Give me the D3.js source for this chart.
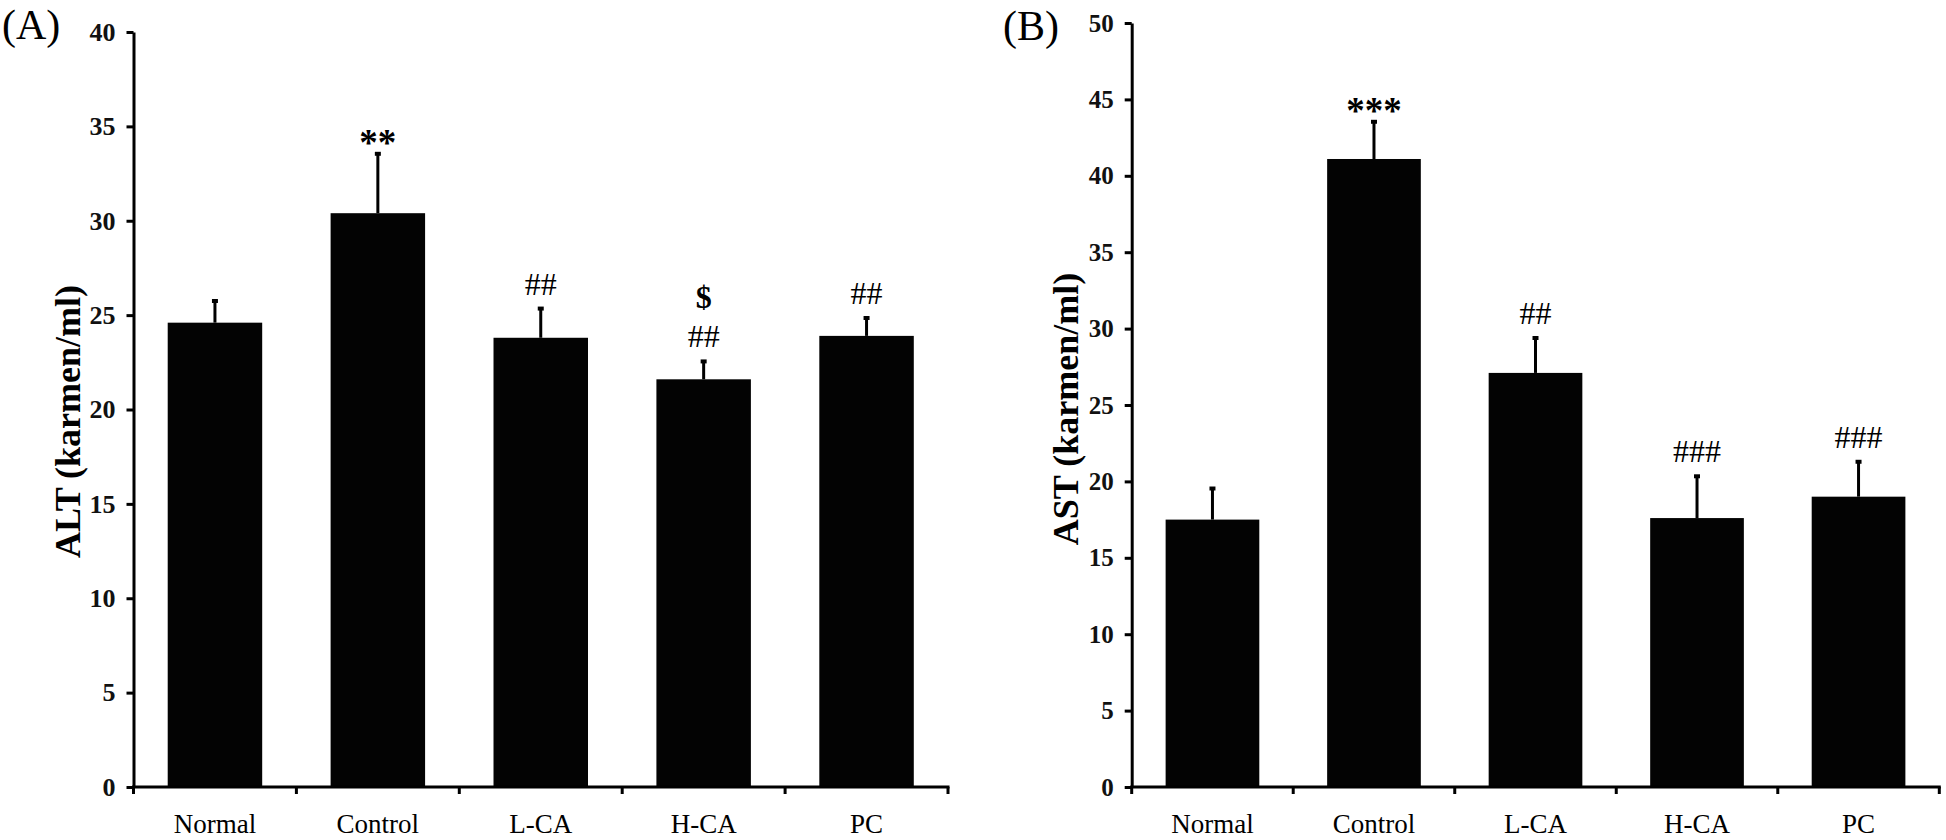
<!DOCTYPE html>
<html><head><meta charset="utf-8">
<script src="https://cdn.jsdelivr.net/npm/d3@7"></script>
<style>body{margin:0;background:#fff} svg{display:block}</style>
</head><body>
<svg id="c" width="1946" height="840"></svg>
<script>
// ---- data ----
const categories = ["Normal", "Control", "L-CA", "H-CA", "PC"];
const altMean = [24.6, 30.4, 23.8, 21.6, 23.9];
const altErr  = [1.2, 3.2, 1.6, 1.0, 1.0];
const altMarks = [[], ["**"], ["##"], ["$", "##"], ["##"]];
const altTicks = [0, 5, 10, 15, 20, 25, 30, 35, 40];

const astMean = [17.5, 41.1, 27.1, 17.6, 19.0];
const astErr  = [2.1, 2.5, 2.35, 2.8, 2.35];
const astMarks = [[], ["***"], ["##"], ["###"], ["###"]];
const astTicks = [0, 5, 10, 15, 20, 25, 30, 35, 40, 45, 50];

const FONT = "'Liberation Serif','Times New Roman',Times,serif";
const svg = d3.select("#c");

function panel(o) {
  const g = svg.append("g");
  const x = d3.scaleBand().domain(categories).range([o.x0, o.x1]).padding(0);
  const y = d3.scaleLinear().domain([0, o.ticks[o.ticks.length - 1]]).range([o.y0, o.y1]);
  const bw = x.bandwidth() * 0.58;

  // bars
  g.selectAll("rect.bar").data(categories).enter().append("rect")
    .attr("x", d => x(d) + (x.bandwidth() - bw) / 2)
    .attr("y", (d, i) => y(o.mean[i]))
    .attr("width", bw)
    .attr("height", (d, i) => y(0) - y(o.mean[i]))
    .attr("fill", "#030303");

  // error bars (upper only)
  const cx = d => x(d) + x.bandwidth() / 2;
  g.selectAll("line.err").data(categories).enter().append("line")
    .attr("x1", cx).attr("x2", cx)
    .attr("y1", (d, i) => y(o.mean[i]))
    .attr("y2", (d, i) => y(o.mean[i] + o.err[i]))
    .attr("stroke", "#000").attr("stroke-width", 3);
  g.selectAll("line.cap").data(categories).enter().append("line")
    .attr("x1", d => cx(d) - 3).attr("x2", d => cx(d) + 3)
    .attr("y1", (d, i) => y(o.mean[i] + o.err[i]) + 1)
    .attr("y2", (d, i) => y(o.mean[i] + o.err[i]) + 1)
    .attr("stroke", "#000").attr("stroke-width", 4);

  // significance marks
  categories.forEach((c, i) => {
    const lines = o.marks[i];
    if (!lines.length) return;
    const top = y(o.mean[i] + o.err[i]);
    const last = lines[lines.length - 1];
    const star = last.indexOf("*") >= 0;
    const base = top - (star ? -2 : 13);
    lines.forEach((t, k) => {
      const isStar = t.indexOf("*") >= 0;
      g.append("text")
        .attr("x", cx(c))
        .attr("y", base - (lines.length - 1 - k) * 39)
        .attr("text-anchor", "middle")
        .attr("font-family", FONT)
        .attr("font-size", isStar ? 37 : 32)
        .attr("font-weight", isStar || t === "$" ? "bold" : "normal")
        .attr("fill", "#000")
        .text(t);
    });
  });

  // y axis
  const ya = g.append("g").attr("transform", `translate(${o.x0},0)`)
    .call(d3.axisLeft(y).tickValues(o.ticks).tickSize(7).tickSizeOuter(0).tickPadding(11).tickFormat(d3.format("d")));
  ya.select(".domain").attr("stroke", "#000").attr("stroke-width", 3);
  ya.selectAll(".tick line").attr("stroke", "#000").attr("stroke-width", 3);
  ya.selectAll(".tick text").attr("font-family", FONT).attr("font-size", o.tickFont)
    .attr("font-weight", "bold").attr("fill", "#111");

  // x axis line and boundary ticks
  g.append("line").attr("x1", o.x0 - 1.5).attr("x2", o.x1 + 1.5)
    .attr("y1", y(0)).attr("y2", y(0)).attr("stroke", "#000").attr("stroke-width", 3);
  const bounds = categories.map(c => x(c)).concat([o.x1]);
  g.selectAll("line.xt").data(bounds).enter().append("line")
    .attr("x1", d => d).attr("x2", d => d)
    .attr("y1", y(0)).attr("y2", y(0) + 7)
    .attr("stroke", "#000").attr("stroke-width", 3);

  const xa = g.append("g").attr("transform", `translate(0,${y(0)})`)
    .call(d3.axisBottom(x).tickSize(0).tickPadding(27));
  xa.select(".domain").remove();
  xa.selectAll(".tick text").attr("font-family", FONT).attr("font-size", 27).attr("fill", "#000");

  // y title
  g.append("text")
    .attr("transform", `translate(${o.x0 - 54},${(o.y0 + o.y1) / 2 + o.titleShift}) rotate(-90)`)
    .attr("text-anchor", "middle")
    .attr("font-family", FONT).attr("font-size", 36).attr("font-weight", "bold")
    .attr("fill", "#000")
    .text(o.title);

  // panel label
  g.append("text").attr("x", o.lx).attr("y", o.ly)
    .attr("font-family", FONT).attr("font-size", 42).attr("fill", "#000")
    .text(o.label);
}

panel({x0: 133.5, x1: 948, y0: 787, y1: 32, ticks: altTicks, mean: altMean, err: altErr,
       marks: altMarks, title: "ALT (karmen/ml)", label: "(A)", lx: 2, ly: 39,
       tickFont: 26, titleShift: 12});
panel({x0: 1131.7, x1: 1939.3, y0: 787, y1: 23, ticks: astTicks, mean: astMean, err: astErr,
       marks: astMarks, title: "AST (karmen/ml)", label: "(B)", lx: 1003, ly: 40,
       tickFont: 25, titleShift: 4});
</script>
</body></html>
